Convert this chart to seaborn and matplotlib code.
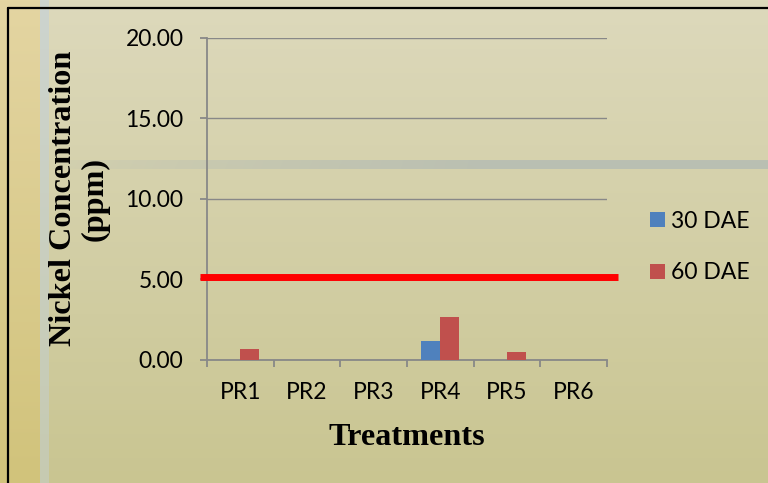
import numpy as np
import pandas as pd
import matplotlib
matplotlib.use("Agg")
import matplotlib.pyplot as plt
from matplotlib.lines import Line2D
from matplotlib.patches import Patch
import seaborn as sns

# ---- data -------------------------------------------------------------
treatments = ["PR1", "PR2", "PR3", "PR4", "PR5", "PR6"]
dae_30 = [0.0, 0.0, 0.0, 1.16, 0.0, 0.0]
dae_60 = [0.64, 0.0, 0.0, 2.63, 0.46, 0.0]
stages = ["30 DAE", "60 DAE"]
permissible_limit = 5.15
y_ticks = [0, 5, 10, 15, 20]

df = pd.DataFrame({
    "Treatment": treatments * 2,
    "Nickel": dae_30 + dae_60,
    "Stage": [stages[0]] * len(treatments) + [stages[1]] * len(treatments),
})

sns.set_theme(style="white")
plt.rcParams["text.color"] = "black"
W, H = 768, 483
fig = plt.figure(figsize=(W / 100, H / 100), dpi=100)

# ---- slide-like background -------------------------------------------
def mix(c0, c1, t):
    c0 = np.array(matplotlib.colors.to_rgb(c0))
    c1 = np.array(matplotlib.colors.to_rgb(c1))
    return c0[None, :] * (1 - t[:, None]) + c1[None, :] * t[:, None]

t = np.linspace(0, 1, H)
img = np.zeros((H, W, 3))
img[:, :, :] = mix("#ddd9bc", "#c9c591", t)[:, None, :]
img[:, :40, :] = mix("#e4d5a2", "#d1c37b", t)[:, None, :]
img[:, 40:49, :] = mix("#cdd4cf", "#c6cab1", t)[:, None, :]
# faint horizontal band
band = np.array(matplotlib.colors.to_rgb("#b5bcb3"))
xs = np.arange(W)
alpha = np.clip((xs - 40) / 450.0, 0, 1) ** 0.7 * 0.85
for y in range(160, 169):
    img[y, 49:, :] = img[y, 49:, :] * (1 - alpha[49:, None]) + band[None, :] * alpha[49:, None]

bg = fig.add_axes([0, 0, 1, 1], zorder=-10)
bg.imshow(img, extent=(0, W, H, 0), aspect="auto", interpolation="bilinear")
bg.set_xlim(0, W)
bg.set_ylim(H, 0)
bg.axis("off")
bg.add_line(Line2D([8, 8], [8, H + 5], color="black", lw=1.6))
bg.add_line(Line2D([8, W + 5], [8, 8], color="black", lw=1.6))

# ---- chart ------------------------------------------------------------
ax = fig.add_axes([207 / W, 1 - 359.5 / H, 400 / W, (359.5 - 37.7) / H])
ax.set_facecolor("none")

sns.barplot(data=df, x="Treatment", y="Nickel", hue="Stage",
            palette=["#4f81bd", "#c0504d"], width=0.57, saturation=1,
            linewidth=0, ax=ax, legend=False, zorder=3)

ax.axhline(permissible_limit, xmin=-0.018, xmax=1.027, color="#ff0000",
           lw=5, clip_on=False, zorder=4, solid_capstyle="butt")

ax.set_ylim(0, 20)
ax.set_xlim(-0.5, len(treatments) - 0.5)
ax.set_yticks(y_ticks)
ax.set_yticklabels([f"{v:.2f}" for v in y_ticks])
ax.grid(axis="y", color="#888888", lw=1.0, zorder=0)
ax.grid(axis="x", visible=False)
ax.set_axisbelow(True)

for s in ["top", "right"]:
    ax.spines[s].set_visible(False)
for s in ["left", "bottom"]:
    ax.spines[s].set_color("#888888")
    ax.spines[s].set_linewidth(1.3)

tick_font = dict(family="Lato", size=16.5, color="black")
ax.set_xticks(range(len(treatments)))
ax.set_xticklabels(treatments, fontdict=tick_font)
for lab in ax.get_yticklabels():
    lab.set_fontfamily("Lato")
    lab.set_fontsize(16.5)
    lab.set_color("black")
ax.set_xticks(np.arange(-0.5, len(treatments), 1.0), minor=True)
ax.tick_params(axis="x", which="major", length=0, pad=16)
ax.tick_params(axis="x", which="minor", length=5, width=1.3, color="#888888",
               direction="out", bottom=True)
ax.tick_params(axis="y", which="major", length=5, width=1.3, color="#888888",
               direction="out", left=True, pad=12)

label_font = dict(family="Liberation Serif", weight="bold", size=23.2,
                  color="black")
ax.set_xlabel("Treatments", fontdict=label_font)
ax.xaxis.set_label_coords(0.5, (359.5 - 437) / (359.5 - 37.7))
ax.xaxis.label.set_va("center")
ax.set_ylabel("Nickel Concentration\n(ppm)", fontdict=label_font,
              linespacing=1.1)
ax.yaxis.set_label_coords((79 - 207) / 400, 0.5)
ax.yaxis.label.set_va("center")

handles = [Patch(facecolor=c, edgecolor="none") for c in ["#4f81bd", "#c0504d"]]
leg = ax.legend(handles, stages, loc="center left",
                bbox_to_anchor=((629 - 207) / 400, (359.5 - 247) / (359.5 - 37.7)),
                frameon=False, handlelength=0.65, handleheight=0.65,
                handletextpad=0.28, labelspacing=1.35,
                prop=dict(family="Lato", size=16.5))
for txt in leg.get_texts():
    txt.set_color("black")

fig.savefig("out.png", dpi=100)
